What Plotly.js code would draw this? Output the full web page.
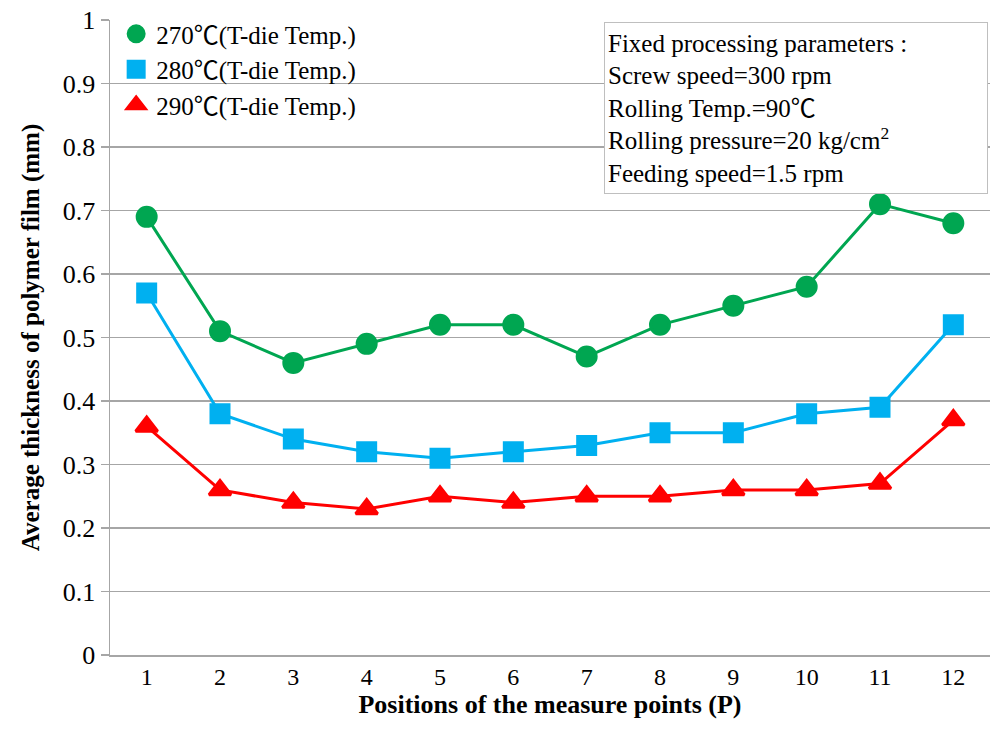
<!DOCTYPE html>
<html>
<head>
<meta charset="utf-8">
<script src="https://cdn.plot.ly/plotly-3.0.1.min.js"></script>
<style>html,body{margin:0;padding:0;background:#fff;}#chart{width:992px;height:735px;}</style>
</head>
<body>
<div id="chart"></div>
<script>
const positions = [1,2,3,4,5,6,7,8,9,10,11,12];
const t270 = [0.69,0.51,0.46,0.49,0.52,0.52,0.47,0.52,0.55,0.58,0.71,0.68];
const t280 = [0.57,0.38,0.34,0.32,0.31,0.32,0.33,0.35,0.35,0.38,0.39,0.52];
const t290 = [0.36,0.26,0.24,0.23,0.25,0.24,0.25,0.25,0.26,0.26,0.27,0.37];
const seriesNames = ['270\u2103(T-die Temp.)','280\u2103(T-die Temp.)','290\u2103(T-die Temp.)'];
const yTickVals = [0,0.1,0.2,0.3,0.4,0.5,0.6,0.7,0.8,0.9,1];
const yTickText = ['0','0.1','0.2','0.3','0.4','0.5','0.6','0.7','0.8','0.9','1'];
const infoLines = ['Fixed processing parameters :','Screw speed=300 rpm','Rolling Temp.=90\u2103','Rolling pressure=20 kg/cm<sup>2</sup>','Feeding speed=1.5 rpm'];

const colors = ['#00A651','#00B0F0','#FF0000'];
const symbols = ['circle','square','triangle-up'];
const sizes = [19,18,19];
const data = [t270,t280,t290];
const serif = 'Liberation Serif, "Times New Roman", "Noto Sans CJK JP", serif';

const traces = [];
data.forEach((ys,i)=>{
  traces.push({x:positions,y:ys,type:'scatter',mode:'lines+markers',showlegend:false,
    line:{color:colors[i],width:3},
    marker:{color:colors[i],symbol:symbols[i],size:sizes[i],line:{color:colors[i],width:3}},hoverinfo:'skip'});
});
data.forEach((ys,i)=>{
  traces.push({x:[null],y:[null],type:'scatter',mode:'markers',name:seriesNames[i],
    marker:{color:colors[i],symbol:symbols[i],size:sizes[i],line:{color:colors[i],width:3}}});
});

const layout = {
  width:992,height:735,
  margin:{l:110,r:2,t:20,b:80},
  paper_bgcolor:'#fff',plot_bgcolor:'#fff',
  font:{family:serif,size:26,color:'#000'},
  showlegend:true,
  legend:{x:0.007,y:1.014,xanchor:'left',yanchor:'top',bgcolor:'rgba(0,0,0,0)',
    font:{family:serif,size:25,color:'#000'},itemsizing:'trace',tracegroupgap:0,itemwidth:30},
  xaxis:{range:[0.5,12.5],tickvals:positions,ticktext:positions.map(String),
    showgrid:false,zeroline:false,showline:true,linecolor:'#A6A6A6',linewidth:1.5,ticks:'',
    tickfont:{family:serif,size:24,color:'#000'},
    title:{text:'<b>Positions of the measure points (P)</b>',font:{family:serif,size:26,color:'#000'},standoff:3}},
  yaxis:{range:[0,1],tickvals:yTickVals,ticktext:yTickText,
    showgrid:true,gridcolor:'#A6A6A6',gridwidth:1.5,zeroline:false,showline:true,linecolor:'#A6A6A6',linewidth:1.5,
    ticks:'outside',ticklen:8,tickcolor:'#A6A6A6',tickwidth:1.5,
    tickfont:{family:serif,size:26,color:'#000'},
    title:{text:'<b>Average thickness of polymer film (mm)</b>',font:{family:serif,size:25,color:'#000'},standoff:16}},
  annotations:[{xref:'paper',yref:'paper',x:0.9977,y:0.9969,xanchor:'right',yanchor:'top',
    text:infoLines.join('<br>'),align:'left',valign:'middle',width:376,height:164,showarrow:false,
    font:{family:serif,size:25,color:'#000'},bgcolor:'#fff',bordercolor:'#BFBFBF',borderwidth:1,borderpad:3}]
};

Plotly.newPlot('chart',traces,layout,{displayModeBar:false,staticPlot:true});
</script>
</body>
</html>
